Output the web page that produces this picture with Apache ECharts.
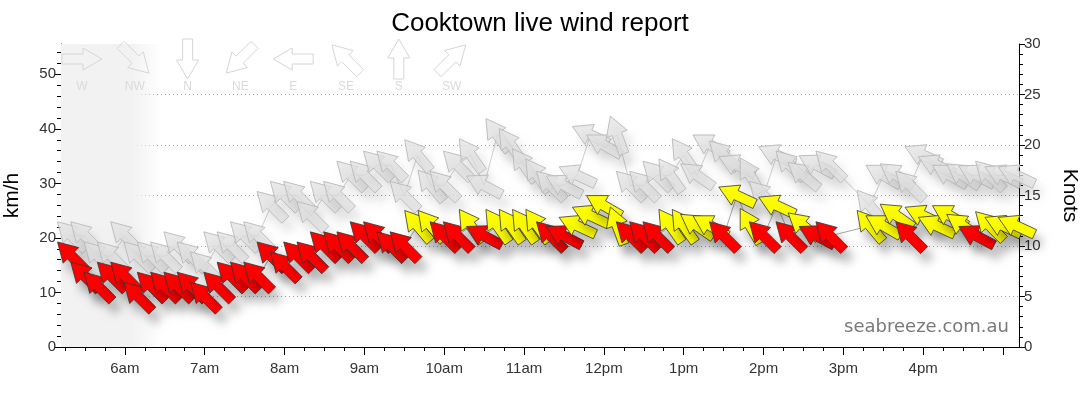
<!DOCTYPE html>
<html>
<head>
<meta charset="utf-8">
<title>Cooktown live wind report</title>
<script src="https://cdn.jsdelivr.net/npm/echarts@6/dist/echarts.min.js"></script>
<style>
  html, body { margin: 0; padding: 0; background: #fff; }
  #chart { width: 1080px; height: 414px; }
</style>
</head>
<body>
<div id="chart"></div>
<script>
// observation times (10 min apart, 15:00 and 15:10 missing)
var times = ['05:20','05:30','05:40','05:50','06:00','06:10','06:20','06:30','06:40','06:50',
  '07:00','07:10','07:20','07:30','07:40','07:50','08:00','08:10','08:20','08:30','08:40','08:50',
  '09:00','09:10','09:20','09:30','09:40','09:50','10:00','10:10','10:20','10:30','10:40','10:50',
  '11:00','11:10','11:20','11:30','11:40','11:50','12:00','12:10','12:20','12:30','12:40','12:50',
  '13:00','13:10','13:20','13:30','13:40','13:50','14:00','14:10','14:20','14:30','14:40','14:50',
  '15:20','15:30','15:40','15:50','16:00','16:10','16:20','16:30','16:40','16:50','17:00','17:10'];
// average wind, knots
var speedKn = [9,7,6,7,7,5,6,6,6,6,
  5,6,7,7,7,9,8,9,9,10,10,10,
  11,11,10,10,12,12,11,11,12,11,12,12,
  12,12,11,11,12,13,14,12,11,11,11,12,
  12,12,12,11,15,12,11,14,11,12,11,11,
  12,12,13,11,13,12,13,12,11,12,12,12];
// gusts, knots
var gustKn = [11,11,9,9,11,9,9,9,10,9,
  8,10,10,11,11,14,15,15,13,15,15,17,
  17,18,18,15,19,16,16,18,19,16,21,20,
  18,17,16,16,17,21,20,21,16,16,17,17,
  19,17,20,19,18,17,15,19,18,17,18,18,
  14,17,17,16,19,18,17,17,17,17,17,17];
// direction wind comes from, degrees
var dirDeg = [135,135,135,135,135,135,135,135,135,135,
  135,135,135,135,135,135,135,135,135,135,135,135,
  135,135,135,135,140,140,135,135,145,118,145,145,
  145,145,135,118,115,115,120,160,135,135,135,145,
  145,125,120,135,115,150,135,115,135,130,118,135,
  140,120,125,135,115,115,120,125,118,135,115,115];

var compassNames = ['W','NW','N','NE','E','SE','S','SW'];
var compassDeg = [270,315,0,45,90,135,180,225];
var hourTicks = [360,420,480,540,600,660,720,780,840,900,960,1020];
var kmhLabels = [0,10,20,30,40,50];
var darkUntil = 388; // minutes, end of the pre-dawn shading

var KMH_PER_KN = 1.852;
var startMin = 312, endMin = 1032;

function toMin(s) {
  var p = s.split(':');
  return +p[0] * 60 + +p[1];
}

function hourLabel(v) {
  if (v % 60 !== 0 || v >= 1020) return '';
  var h = v / 60;
  return (h % 12 || 12) + (h < 12 ? 'am' : 'pm');
}

var quarterTicks = [];
for (var q = 315; q < endMin; q += 15) {
  if (q % 60 !== 0) quarterTicks.push(q);
}

// arrow polygon pointing toward bearing (deg clockwise from north)
function arrowPoints(cx, cy, bearing, len) {
  var hl = 19, hw = 11, sw = 5, h = len / 2;
  var loc = [[0, -h], [hw, -h + hl], [sw, -h + hl], [sw, h], [-sw, h], [-sw, -h + hl], [-hw, -h + hl]];
  var a = bearing * Math.PI / 180, c = Math.cos(a), s = Math.sin(a);
  return loc.map(function (p) {
    return [cx + p[0] * c - p[1] * s, cy + p[0] * s + p[1] * c];
  });
}

var speedData = times.map(function (t, i) { return [toMin(t), speedKn[i], dirDeg[i]]; });
var gustData = times.map(function (t, i) { return [toMin(t), gustKn[i], dirDeg[i]]; });

function arrowRenderer(kind) {
  return function (params, api) {
    var p = api.coord([api.value(0), api.value(1)]);
    var pts = arrowPoints(p[0], p[1], api.value(2) + 180, 40);
    var style;
    if (kind === 'gust') {
      style = {
        fill: 'rgba(226,226,226,0.75)', stroke: 'rgba(185,185,185,0.9)', lineWidth: 1,
        shadowBlur: 10, shadowOffsetX: 6, shadowOffsetY: 10, shadowColor: 'rgba(0,0,0,0.12)'
      };
    } else {
      style = {
        fill: api.value(1) >= 12 ? '#ffff00' : '#ff0000', stroke: '#333', lineWidth: 0.8,
        shadowBlur: 10, shadowOffsetX: 6, shadowOffsetY: 10, shadowColor: 'rgba(0,0,0,0.25)'
      };
    }
    return { type: 'polygon', shape: { points: pts }, style: style };
  };
}

var legendGraphics = [];
compassNames.forEach(function (n, i) {
  var cx = 82 + i * 52.8, cy = 59;
  legendGraphics.push({
    type: 'polygon', silent: true, z: 100,
    shape: { points: arrowPoints(cx, cy, compassDeg[i] + 180, 40) },
    style: { fill: 'none', stroke: '#d6d6d6', lineWidth: 1 }
  });
  legendGraphics.push({
    type: 'text', silent: true, z: 100, x: cx, y: 87,
    style: { text: n, fill: '#dadada', font: '12px "Liberation Sans", Arial', textAlign: 'center', textVerticalAlign: 'middle' }
  });
});
legendGraphics.push({
  type: 'text', silent: true, z: 100, right: 71, top: 318,
  style: { text: 'seabreeze.com.au', fill: '#7a7a7a', font: '18px "DejaVu Sans", Verdana' }
});

var chart = echarts.init(document.getElementById('chart'));

var option = {
  backgroundColor: '#fff',
  animation: false,
  title: {
    text: 'Cooktown live wind report', left: 'center', top: 6,
    textStyle: { fontFamily: 'Liberation Sans', fontSize: 26, fontWeight: 'normal', color: '#000' }
  },
  grid: { left: 61, right: 61, top: 44, bottom: 67, outerBoundsMode: 'none', containLabel: false },
  xAxis: [{
    type: 'value', min: startMin, max: endMin, position: 'bottom',
    axisLine: { lineStyle: { color: '#000' } },
    axisTick: { customValues: hourTicks, length: 8, lineStyle: { color: '#000' } },
    axisLabel: { customValues: hourTicks, formatter: hourLabel, fontFamily: 'Liberation Sans', fontSize: 15, color: '#333', margin: 14 },
    splitLine: { show: false }
  }, {
    type: 'value', min: startMin, max: endMin, position: 'bottom',
    axisLine: { show: false },
    axisTick: { customValues: quarterTicks, length: 4, lineStyle: { color: '#000' } },
    axisLabel: { show: false },
    splitLine: { show: false }
  }],
  yAxis: [{
    type: 'value', min: 0, max: 30 * KMH_PER_KN, interval: 10, position: 'left',
    name: 'km/h', nameLocation: 'middle', nameGap: 38,
    nameTextStyle: { fontFamily: 'Liberation Sans', fontSize: 21, color: '#000' },
    axisLine: { show: true, lineStyle: { color: '#000' } },
    axisTick: { customValues: kmhLabels, length: 7, lineStyle: { color: '#000' } },
    minorTick: { show: true, splitNumber: 5, length: 4, lineStyle: { color: '#000' } },
    axisLabel: { customValues: kmhLabels, fontFamily: 'Liberation Sans', fontSize: 15, color: '#333', margin: 5 },
    splitLine: { show: false }
  }, {
    type: 'value', min: 0, max: 30, interval: 5, position: 'right',
    name: 'Knots', nameLocation: 'middle', nameRotate: -90, nameGap: 40,
    nameTextStyle: { fontFamily: 'Liberation Sans', fontSize: 21, color: '#000' },
    axisLine: { show: true, lineStyle: { color: '#000' } },
    axisTick: { length: 6, lineStyle: { color: '#000' } },
    minorTick: { show: true, splitNumber: 5, length: 4, lineStyle: { color: '#000' } },
    axisLabel: { fontFamily: 'Liberation Sans', fontSize: 15, color: '#333', margin: 5 },
    splitLine: { show: true, showMinLine: false, showMaxLine: false, lineStyle: { color: '#a0a0a0', type: [1, 3] } }
  }],
  graphic: legendGraphics,
  series: [{
    name: 'gust line', type: 'line', xAxisIndex: 0, yAxisIndex: 1,
    data: gustData.map(function (d) { return [d[0], d[1]]; }),
    showSymbol: false, lineStyle: { color: '#d0d0d0', width: 1 }, z: 1,
    markArea: {
      silent: true,
      itemStyle: {
        color: new echarts.graphic.LinearGradient(0, 0, 1, 0, [
          { offset: 0, color: '#f2f2f2' }, { offset: 0.7, color: '#f2f2f2' }, { offset: 1, color: 'rgba(242,242,242,0)' }
        ])
      },
      data: [[{ xAxis: startMin }, { xAxis: darkUntil }]]
    }
  }, {
    name: 'wind line', type: 'line', xAxisIndex: 0, yAxisIndex: 1,
    data: speedData.map(function (d) { return [d[0], d[1]]; }),
    showSymbol: false, lineStyle: { color: '#a8a8a8', width: 1 }, z: 2
  }, {
    name: 'gust', type: 'custom', xAxisIndex: 0, yAxisIndex: 1,
    data: gustData, encode: { x: 0, y: 1 }, renderItem: arrowRenderer('gust'), clip: false, z: 3
  }, {
    name: 'wind', type: 'custom', xAxisIndex: 0, yAxisIndex: 1,
    data: speedData, encode: { x: 0, y: 1 }, renderItem: arrowRenderer('wind'), clip: false, z: 4
  }]
};

chart.setOption(option);
</script>
</body>
</html>
